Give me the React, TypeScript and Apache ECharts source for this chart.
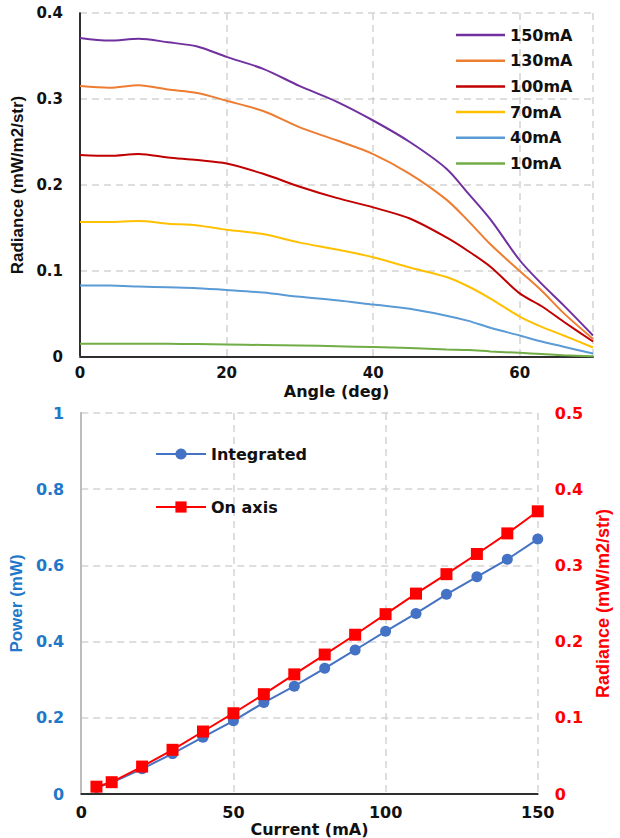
import React, { useEffect, useRef } from "react";
import * as echarts from "echarts";

// ---- Top chart: radiance vs angle ----
const angles = [0, 4, 8, 12, 16, 20, 25, 30, 35, 40, 45, 50, 53, 56, 60, 63, 66, 70];
const r150 = [0.371, 0.368, 0.370, 0.366, 0.361, 0.349, 0.335, 0.315, 0.297, 0.275, 0.250, 0.219, 0.190, 0.160, 0.1125, 0.085, 0.060, 0.025];
const r130 = [0.315, 0.313, 0.316, 0.311, 0.307, 0.298, 0.286, 0.267, 0.252, 0.236, 0.213, 0.183, 0.158, 0.131, 0.100, 0.077, 0.051, 0.021];
const r100 = [0.235, 0.234, 0.236, 0.232, 0.229, 0.225, 0.213, 0.198, 0.185, 0.174, 0.161, 0.139, 0.123, 0.105, 0.074, 0.059, 0.041, 0.018];
const r70 = [0.157, 0.157, 0.158, 0.155, 0.153, 0.148, 0.143, 0.133, 0.125, 0.116, 0.104, 0.093, 0.082, 0.068, 0.047, 0.035, 0.025, 0.011];
const r40 = [0.083, 0.083, 0.082, 0.081, 0.080, 0.078, 0.075, 0.070, 0.066, 0.061, 0.056, 0.048, 0.042, 0.034, 0.025, 0.018, 0.012, 0.004];
const r10 = [0.0155, 0.0155, 0.0155, 0.0155, 0.015, 0.0145, 0.014, 0.0135, 0.0125, 0.0115, 0.0105, 0.0088, 0.008, 0.0065, 0.0048, 0.0035, 0.002, 0.0008];
const angleSeriesNames = ["150mA", "130mA", "100mA", "70mA", "40mA", "10mA"];
const angleSeriesColors = ["#7030A0", "#ED7D31", "#C00000", "#FFC000", "#5B9BD5", "#70AD47"];
const angleSeriesValues = [r150, r130, r100, r70, r40, r10];

// ---- Bottom chart: power / radiance vs current ----
const currents = [5, 10, 20, 30, 40, 50, 60, 70, 80, 90, 100, 110, 120, 130, 140, 150];
const integrated = [0.017, 0.03, 0.066, 0.106, 0.149, 0.192, 0.24, 0.283, 0.33, 0.378, 0.427, 0.474, 0.524, 0.57, 0.616, 0.669];
const onAxis = [0.0096, 0.0155, 0.036, 0.058, 0.082, 0.106, 0.131, 0.157, 0.183, 0.209, 0.236, 0.263, 0.2885, 0.315, 0.342, 0.371];

const TICK_FONT = "DejaVu Sans";
const NAME_FONT = "DejaVu Sans";
const VNAME_FONT = "Liberation Sans";

export default function App() {
  const ref = useRef<HTMLDivElement>(null);

  useEffect(() => {
    document.body.style.margin = "0";
    if (!ref.current) return;
    const chart = echarts.init(ref.current, undefined, { renderer: "svg" });

    const gridLine = { show: true, lineStyle: { color: "#D4D4D4", width: 1.5, type: [7, 5] as any } };
    const grayAxis = { show: true, lineStyle: { color: "#BDBDBD", width: 2 } };
    const blackAxis = { show: true, lineStyle: { color: "#000", width: 1.5 } };

    const topSeries = angleSeriesNames.map((name, k) => ({
      name,
      type: "line",
      xAxisIndex: 0,
      yAxisIndex: 0,
      data: angles.map((a, i) => [a, angleSeriesValues[k][i]]),
      symbol: "none",
      smooth: 0.3,
      lineStyle: { color: angleSeriesColors[k], width: 2 },
      itemStyle: { color: angleSeriesColors[k] },
      z: 10 - k,
    }));

    const option: any = {
      animation: false,
      backgroundColor: "#fff",
      grid: [
        { left: 80, right: 27, top: 13, height: 344 },
        { left: 80, right: 77, top: 413, height: 381 },
      ],
      legend: [
        {
          data: angleSeriesNames.map((n) => ({ name: n, icon: "rect" })),
          orient: "vertical",
          left: 456,
          top: 26,
          padding: 0,
          itemWidth: 49,
          itemHeight: 2.5,
          itemGap: 7.7,
          textStyle: { fontFamily: TICK_FONT, fontWeight: "bold", fontSize: 16, color: "#111", lineHeight: 18 },
        },
        {
          data: ["Integrated", "On axis"],
          orient: "vertical",
          left: 155,
          top: 445,
          padding: 0,
          itemWidth: 50,
          itemHeight: 14,
          itemGap: 35,
          textStyle: { fontFamily: TICK_FONT, fontWeight: "bold", fontSize: 16, color: "#111", lineHeight: 18 },
        },
      ],
      xAxis: [
        {
          gridIndex: 0,
          type: "value",
          min: 0,
          max: 70,
          interval: 20,
          axisLine: grayAxis,
          axisTick: { show: false },
          axisLabel: { margin: 8, showMaxLabel: false, color: "#111", fontFamily: TICK_FONT, fontWeight: "bold", fontSize: 15, lineHeight: 16 },
          splitLine: gridLine,
          name: "Angle (deg)",
          nameLocation: "middle",
          nameGap: 25,
          nameTextStyle: { fontFamily: NAME_FONT, fontWeight: "bold", fontSize: 16, color: "#111", lineHeight: 18 },
        },
        {
          gridIndex: 0,
          type: "value",
          position: "top",
          min: 0,
          max: 70,
          axisLine: blackAxis,
          axisTick: { show: false },
          axisLabel: { show: false },
          splitLine: { show: false },
        },
        {
          gridIndex: 1,
          type: "value",
          min: 0,
          max: 150,
          interval: 50,
          axisLine: grayAxis,
          axisTick: { show: false },
          axisLabel: { margin: 10, color: "#111", fontFamily: TICK_FONT, fontWeight: "bold", fontSize: 16, lineHeight: 16 },
          splitLine: gridLine,
          name: "Current (mA)",
          nameLocation: "middle",
          nameGap: 27,
          nameTextStyle: { fontFamily: NAME_FONT, fontWeight: "bold", fontSize: 16, color: "#111", lineHeight: 16 },
        },
        {
          gridIndex: 1,
          type: "value",
          position: "top",
          min: 0,
          max: 150,
          axisLine: blackAxis,
          axisTick: { show: false },
          axisLabel: { show: false },
          splitLine: { show: false },
        },
      ],
      yAxis: [
        {
          gridIndex: 0,
          type: "value",
          min: 0,
          max: 0.4,
          interval: 0.1,
          axisLine: grayAxis,
          axisTick: { show: false },
          axisLabel: { margin: 17, color: "#111", fontFamily: TICK_FONT, fontWeight: "bold", fontSize: 15 },
          splitLine: gridLine,
          name: "Radiance (mW/m2/str)",
          nameLocation: "middle",
          nameGap: 52,
          nameTextStyle: { fontFamily: VNAME_FONT, fontWeight: "bold", fontSize: 17, color: "#111" },
        },
        {
          gridIndex: 0,
          type: "value",
          position: "right",
          min: 0,
          max: 0.4,
          axisLine: blackAxis,
          axisTick: { show: false },
          axisLabel: { show: false },
          splitLine: { show: false },
        },
        {
          gridIndex: 1,
          type: "value",
          min: 0,
          max: 1,
          interval: 0.2,
          axisLine: grayAxis,
          axisTick: { show: false },
          axisLabel: { margin: 17, color: "#1F78C8", fontFamily: TICK_FONT, fontWeight: "bold", fontSize: 16 },
          splitLine: gridLine,
          name: "Power (mW)",
          nameLocation: "middle",
          nameGap: 52,
          nameTextStyle: { fontFamily: VNAME_FONT, fontWeight: "bold", fontSize: 17, color: "#1F78C8" },
        },
        {
          gridIndex: 1,
          type: "value",
          position: "right",
          min: 0,
          max: 0.5,
          interval: 0.1,
          axisLine: grayAxis,
          axisTick: { show: false },
          axisLabel: { margin: 17, color: "#FF0000", fontFamily: TICK_FONT, fontWeight: "bold", fontSize: 16 },
          splitLine: { show: false },
          name: "Radiance (mW/m2/str)",
          nameLocation: "middle",
          nameGap: 54,
          nameRotate: 90,
          nameTextStyle: { fontFamily: VNAME_FONT, fontWeight: "bold", fontSize: 18, color: "#FF0000" },
        },
      ],
      series: [
        ...topSeries,
        {
          name: "Integrated",
          type: "line",
          xAxisIndex: 2,
          yAxisIndex: 2,
          data: currents.map((c, i) => [c, integrated[i]]),
          symbol: "circle",
          symbolSize: 11,
          lineStyle: { color: "#4472C4", width: 2 },
          itemStyle: { color: "#4472C4" },
        },
        {
          name: "On axis",
          type: "line",
          xAxisIndex: 2,
          yAxisIndex: 3,
          data: currents.map((c, i) => [c, onAxis[i]]),
          symbol: "rect",
          symbolSize: 12,
          lineStyle: { color: "#FF0000", width: 2 },
          itemStyle: { color: "#FF0000" },
        },
      ],
    };

    chart.setOption(option);
    return () => chart.dispose();
  }, []);

  return <div ref={ref} style={{ width: 620, height: 838 }} />;
}
